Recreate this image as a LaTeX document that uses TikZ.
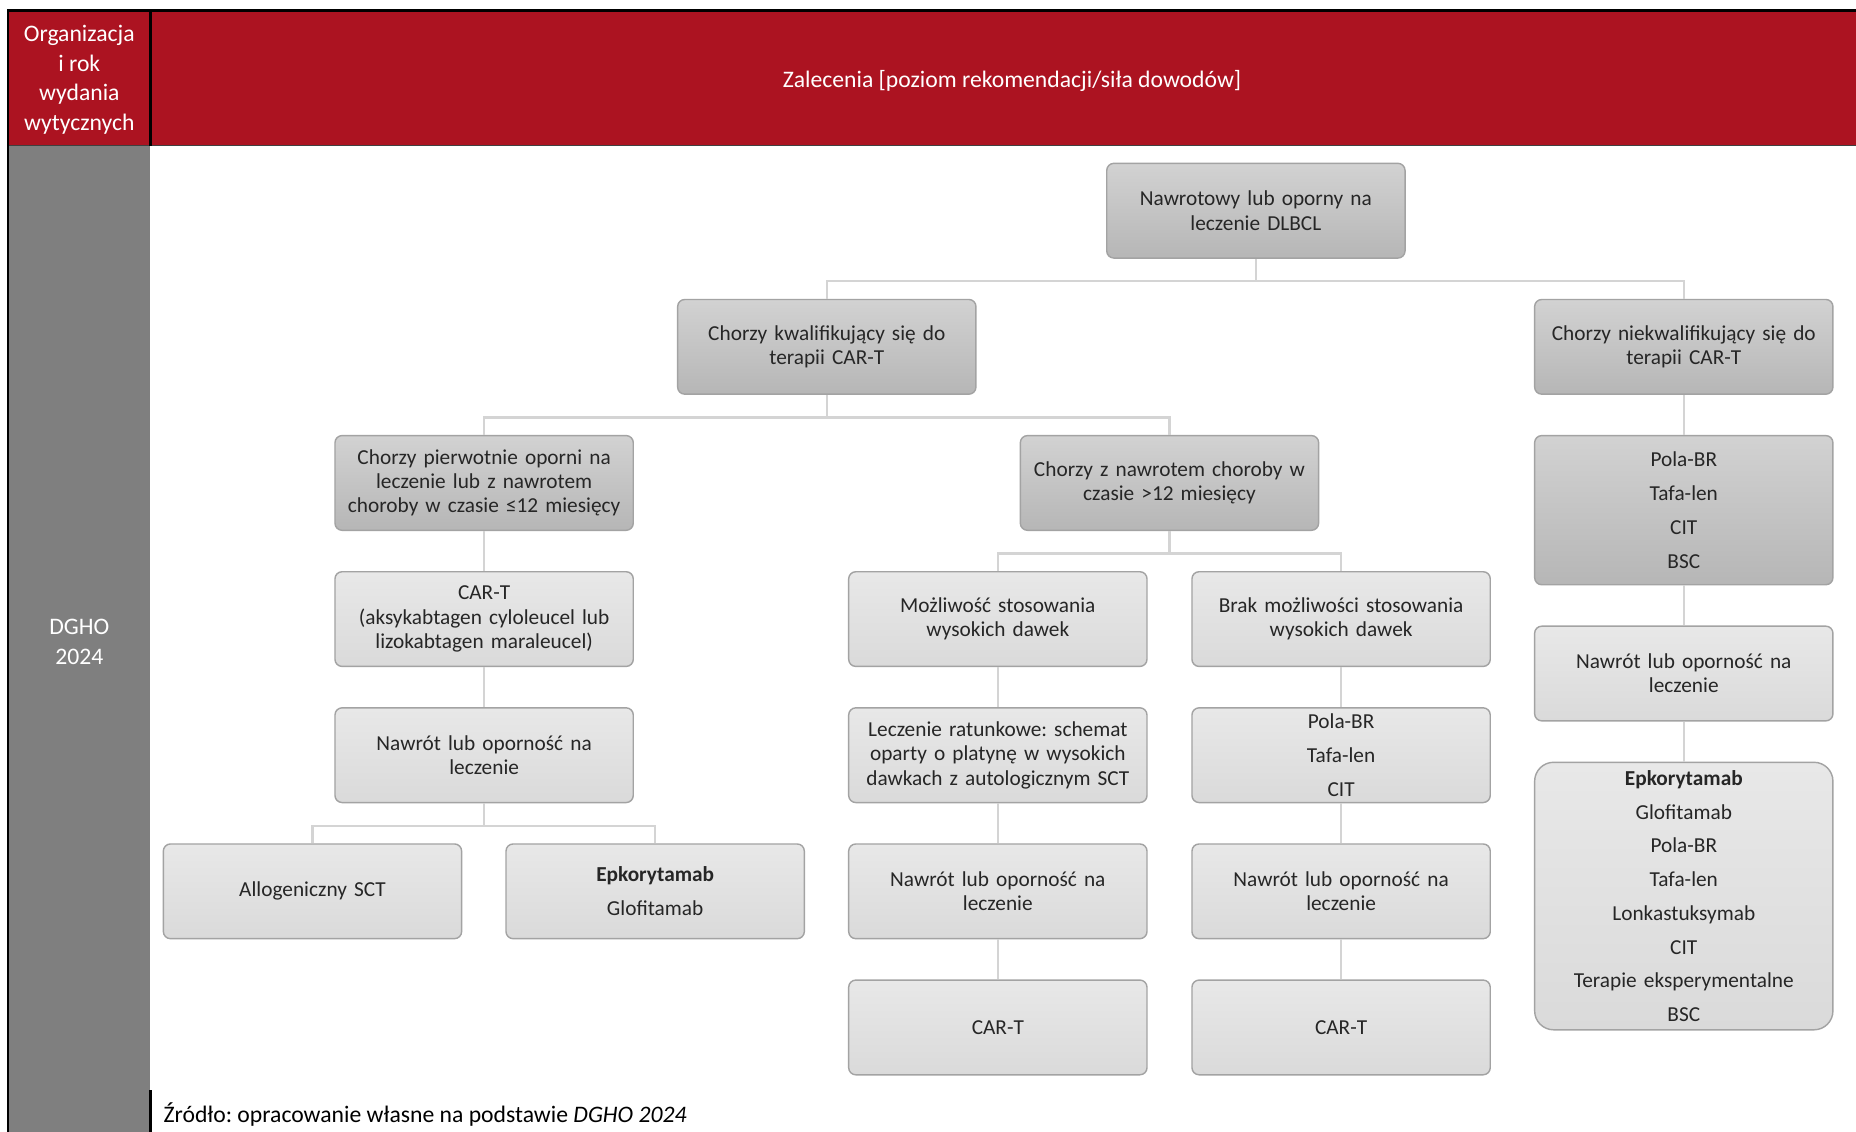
\documentclass[tikz,border=0pt]{standalone}
\usepackage{fontspec}
\setmainfont{Carlito}
\usetikzlibrary{calc}
\frenchspacing
\definecolor{hdrred}{HTML}{AC1321}
\definecolor{colgrey}{HTML}{7F7F7F}
\definecolor{conncol}{HTML}{D4D4D4}
\definecolor{boxline}{HTML}{A3A3A3}
\definecolor{darktop}{HTML}{D2D2D2}
\definecolor{darkbot}{HTML}{B6B6B6}
\definecolor{lighttop}{HTML}{E8E8E8}
\definecolor{lightbot}{HTML}{DADADA}
\definecolor{txt}{HTML}{262626}
\tikzset{
  basebox/.style={draw=boxline, line width=1.2pt, rounded corners=6pt,
    minimum width=252pt, minimum height=80pt, inner sep=0pt, text width=244pt,
    align=center, text=txt, font=\fontsize{18}{20.5}\selectfont\frenchspacing},
  darkbox/.style={basebox, top color=darktop, bottom color=darkbot},
  lightbox/.style={basebox, top color=lighttop, bottom color=lightbot},
  listfont/.style={font=\fontsize{18}{28.5}\selectfont},
  conn/.style={draw=conncol, line width=2pt},
  hdrtext/.style={text=white, align=center, font=\fontsize{20}{25}\selectfont}
}
\begin{document}
\begin{tikzpicture}[x=1pt,y=-1pt]
\useasboundingbox (0,0) rectangle (1568,956);
\fill[white] (0,0) rectangle (1568,956);
% header
\fill[hdrred] (7,9) rectangle (1568,123);
\fill[colgrey] (7,123) rectangle (127,956);
\draw[black!75, line width=1pt] (7,123) -- (1568,123);
\draw[black, line width=2pt] (7,956) -- (7,9) -- (1568,9);
\draw[black, line width=2pt] (127,9) -- (127,123);
\draw[black, line width=2pt] (127,921) -- (127,956);
\node[hdrtext] (hl) at (67,67.5) {Organizacja\\i rok\\wydania\\wytycznych};
\node[hdrtext] (hr) at (855,68) {Zalecenia [poziom rekomendacji/siła dowodów]};
\node[hdrtext] (org) at (67,542.5) {DGHO\\2024};
\node[anchor=base west, text=black, inner sep=0pt, font=\fontsize{20}{24}\selectfont\frenchspacing] (src) at (138,948) {Źródło: opracowanie własne na podstawie \textit{DGHO 2024}};
% nodes
\node[darkbox] (root) at (1061,178) {Nawrotowy lub oporny na\\leczenie DLBCL};
\node[darkbox] (q) at (698.5,293) {Chorzy kwalifikujący się do\\terapii CAR-T};
\node[darkbox] (nq) at (1422.5,293) {Chorzy niekwalifikujący się do\\terapii CAR-T};
\node[darkbox] (a) at (409,408) {Chorzy pierwotnie oporni na\\leczenie lub z nawrotem\\choroby w czasie ≤12 miesięcy};
\node[darkbox] (b) at (988,408) {Chorzy z nawrotem choroby w\\czasie >12 miesięcy};
\node[darkbox, listfont, minimum height=126pt] (r1) at (1422.5,431) {Pola-BR\\Tafa-len\\CIT\\BSC};
\node[lightbox] (c) at (409,523) {CAR-T\\(aksykabtagen cyloleucel lub\\lizokabtagen maraleucel)};
\node[lightbox] (d) at (843,523) {Możliwość stosowania\\wysokich dawek};
\node[lightbox] (e) at (1133,523) {Brak możliwości stosowania\\wysokich dawek};
\node[lightbox] (r2) at (1422.5,569) {Nawrót lub oporność na\\leczenie};
\node[lightbox] (f) at (409,638) {Nawrót lub oporność na\\leczenie};
\node[lightbox] (g) at (843,638) {Leczenie ratunkowe: schemat\\oparty o platynę w wysokich\\dawkach z autologicznym SCT};
\node[lightbox, listfont] (h) at (1133,638) {Pola-BR\\Tafa-len\\CIT};
\node[lightbox, listfont, minimum height=226pt, rounded corners=16pt] (r3) at (1422.5,757) {\textbf{Epkorytamab}\\Glofitamab\\Pola-BR\\Tafa-len\\Lonkastuksymab\\CIT\\Terapie eksperymentalne\\BSC};
\node[lightbox] (i) at (264,753) {Allogeniczny SCT};
\node[lightbox, listfont] (j) at (553.5,753) {\textbf{Epkorytamab}\\Glofitamab};
\node[lightbox] (k) at (843,753) {Nawrót lub oporność na\\leczenie};
\node[lightbox] (l) at (1133,753) {Nawrót lub oporność na\\leczenie};
\node[lightbox] (m) at (843,868) {CAR-T};
\node[lightbox] (n) at (1133,868) {CAR-T};
% connectors
\draw[conn] (root.south) -- ++(0,19) -| (q.north);
\draw[conn] (root.south) -- ++(0,19) -| (nq.north);
\draw[conn] (q.south) -- ++(0,19) -| (a.north);
\draw[conn] (q.south) -- ++(0,19) -| (b.north);
\draw[conn] (nq.south) -- (r1.north);
\draw[conn] (r1.south) -- (r2.north);
\draw[conn] (r2.south) -- (r3.north);
\draw[conn] (a.south) -- (c.north);
\draw[conn] (c.south) -- (f.north);
\draw[conn] (f.south) -- ++(0,19) -| (i.north);
\draw[conn] (f.south) -- ++(0,19) -| (j.north);
\draw[conn] (b.south) -- ++(0,19) -| (d.north);
\draw[conn] (b.south) -- ++(0,19) -| (e.north);
\draw[conn] (d.south) -- (g.north);
\draw[conn] (e.south) -- (h.north);
\draw[conn] (g.south) -- (k.north);
\draw[conn] (h.south) -- (l.north);
\draw[conn] (k.south) -- (m.north);
\draw[conn] (l.south) -- (n.north);
\end{tikzpicture}
\end{document}
